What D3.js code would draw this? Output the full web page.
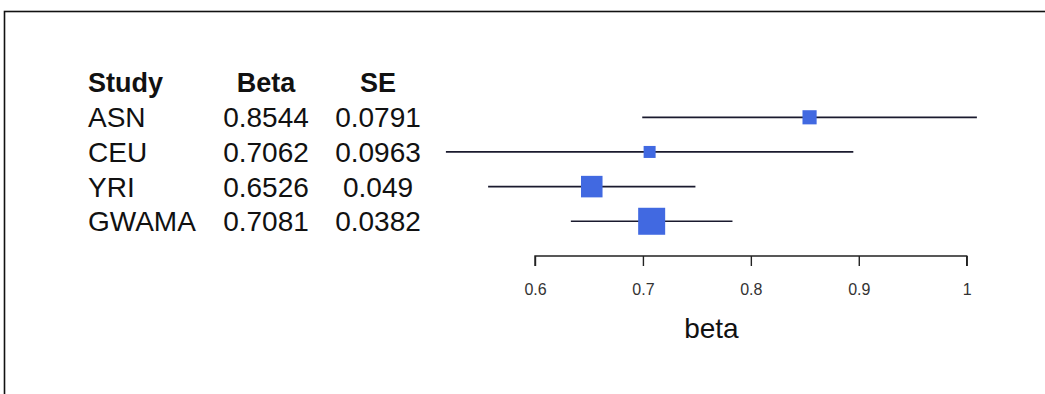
<!DOCTYPE html>
<html>
<head>
<meta charset="utf-8">
<script src="https://cdn.jsdelivr.net/npm/d3@7"></script>
<style>
  body { margin: 0; background: #fff; }
  svg { display: block; font-family: "Liberation Sans", Arial, sans-serif; }
</style>
</head>
<body>
<div id="chart"></div>
<script>
// forest plot data
const studies = ["ASN", "CEU", "YRI", "GWAMA"];
const betas = [0.8544, 0.7062, 0.6526, 0.7081];
const ses = [0.0791, 0.0963, 0.049, 0.0382];
const betaLabels = ["0.8544", "0.7062", "0.6526", "0.7081"];
const seLabels = ["0.0791", "0.0963", "0.049", "0.0382"];
const headers = ["Study", "Beta", "SE"];
const xTicks = [0.6, 0.7, 0.8, 0.9, 1];

const WIDTH = 1045, HEIGHT = 394;

const svg = d3.select("#chart").append("svg")
    .attr("width", WIDTH)
    .attr("height", HEIGHT);

// frame (only top and left edges visible in the picture)
svg.append("rect")
    .attr("x", 4.5)
    .attr("y", 11.5)
    .attr("width", WIDTH + 20)
    .attr("height", HEIGHT + 20)
    .attr("fill", "none")
    .attr("stroke", "#111")
    .attr("stroke-width", 1.6);

const rows = studies.map((s, i) => ({
    study: s,
    beta: betas[i],
    se: ses[i],
    lo: betas[i] - 1.96 * ses[i],
    hi: betas[i] + 1.96 * ses[i],
    betaLabel: betaLabels[i],
    seLabel: seLabels[i]
}));

const x = d3.scaleLinear().domain([0.6, 1]).range([535, 966.7]);

const y = d3.scaleBand()
    .domain(["header", ...studies])
    .range([65.3, 238.6]);
const yc = d => y(d) + y.bandwidth() / 2;

const invSe = rows.map(d => 1 / d.se);
const boxSize = d3.scaleLinear().domain(d3.extent(invSe)).range([12, 27]);

// table text
const cols = [
    { x: 88, anchor: "start", key: "study" },
    { x: 266, anchor: "middle", key: "betaLabel" },
    { x: 378, anchor: "middle", key: "seLabel" }
];

cols.forEach((c, i) => {
    svg.append("text")
        .attr("x", c.x)
        .attr("y", yc("header"))
        .attr("dy", "0.36em")
        .attr("text-anchor", c.anchor)
        .style("font-size", "27px")
        .style("font-weight", "bold")
        .attr("fill", "#111")
        .text(headers[i]);

    svg.selectAll(null)
        .data(rows)
        .join("text")
        .attr("x", c.x)
        .attr("y", d => yc(d.study))
        .attr("dy", "0.36em")
        .attr("text-anchor", c.anchor)
        .style("font-size", "28px")
        .attr("fill", "#111")
        .text(d => d[c.key]);
});

// confidence interval lines
svg.selectAll(".ci")
    .data(rows)
    .join("line")
    .attr("class", "ci")
    .attr("x1", d => x(d.lo))
    .attr("x2", d => x(d.hi))
    .attr("y1", d => yc(d.study))
    .attr("y2", d => yc(d.study))
    .attr("stroke", "#1a1a2e")
    .attr("stroke-width", 1.7);

// boxes
svg.selectAll(".box")
    .data(rows)
    .join("rect")
    .attr("class", "box")
    .attr("x", d => x(d.beta) - boxSize(1 / d.se) / 2)
    .attr("y", d => yc(d.study) - boxSize(1 / d.se) / 2)
    .attr("width", d => boxSize(1 / d.se))
    .attr("height", d => boxSize(1 / d.se))
    .attr("fill", "#4169E1");

// x axis
const axis = d3.axisBottom(x)
    .tickValues(xTicks)
    .tickFormat(d3.format("~g"))
    .tickSize(10)
    .tickPadding(18);

const gAxis = svg.append("g")
    .attr("transform", "translate(0,256)")
    .call(axis);

gAxis.select(".domain")
    .attr("d", `M${x(0.6)},10V0H${x(1)}V10`)
    .attr("stroke", "#222")
    .attr("stroke-width", 1.4);
gAxis.selectAll(".tick line").attr("stroke", "#222").attr("stroke-width", 1.4);
gAxis.selectAll(".tick text")
    .style("font-size", "16px")
    .style("font-family", "Liberation Sans, Arial, sans-serif")
    .attr("fill", "#333");

// axis title centred on the data range
const xMid = (d3.min(rows, d => d.lo) + d3.max(rows, d => d.hi)) / 2;
svg.append("text")
    .attr("x", x(xMid))
    .attr("y", 338)
    .attr("text-anchor", "middle")
    .style("font-size", "28px")
    .attr("fill", "#111")
    .text("beta");
</script>
</body>
</html>
